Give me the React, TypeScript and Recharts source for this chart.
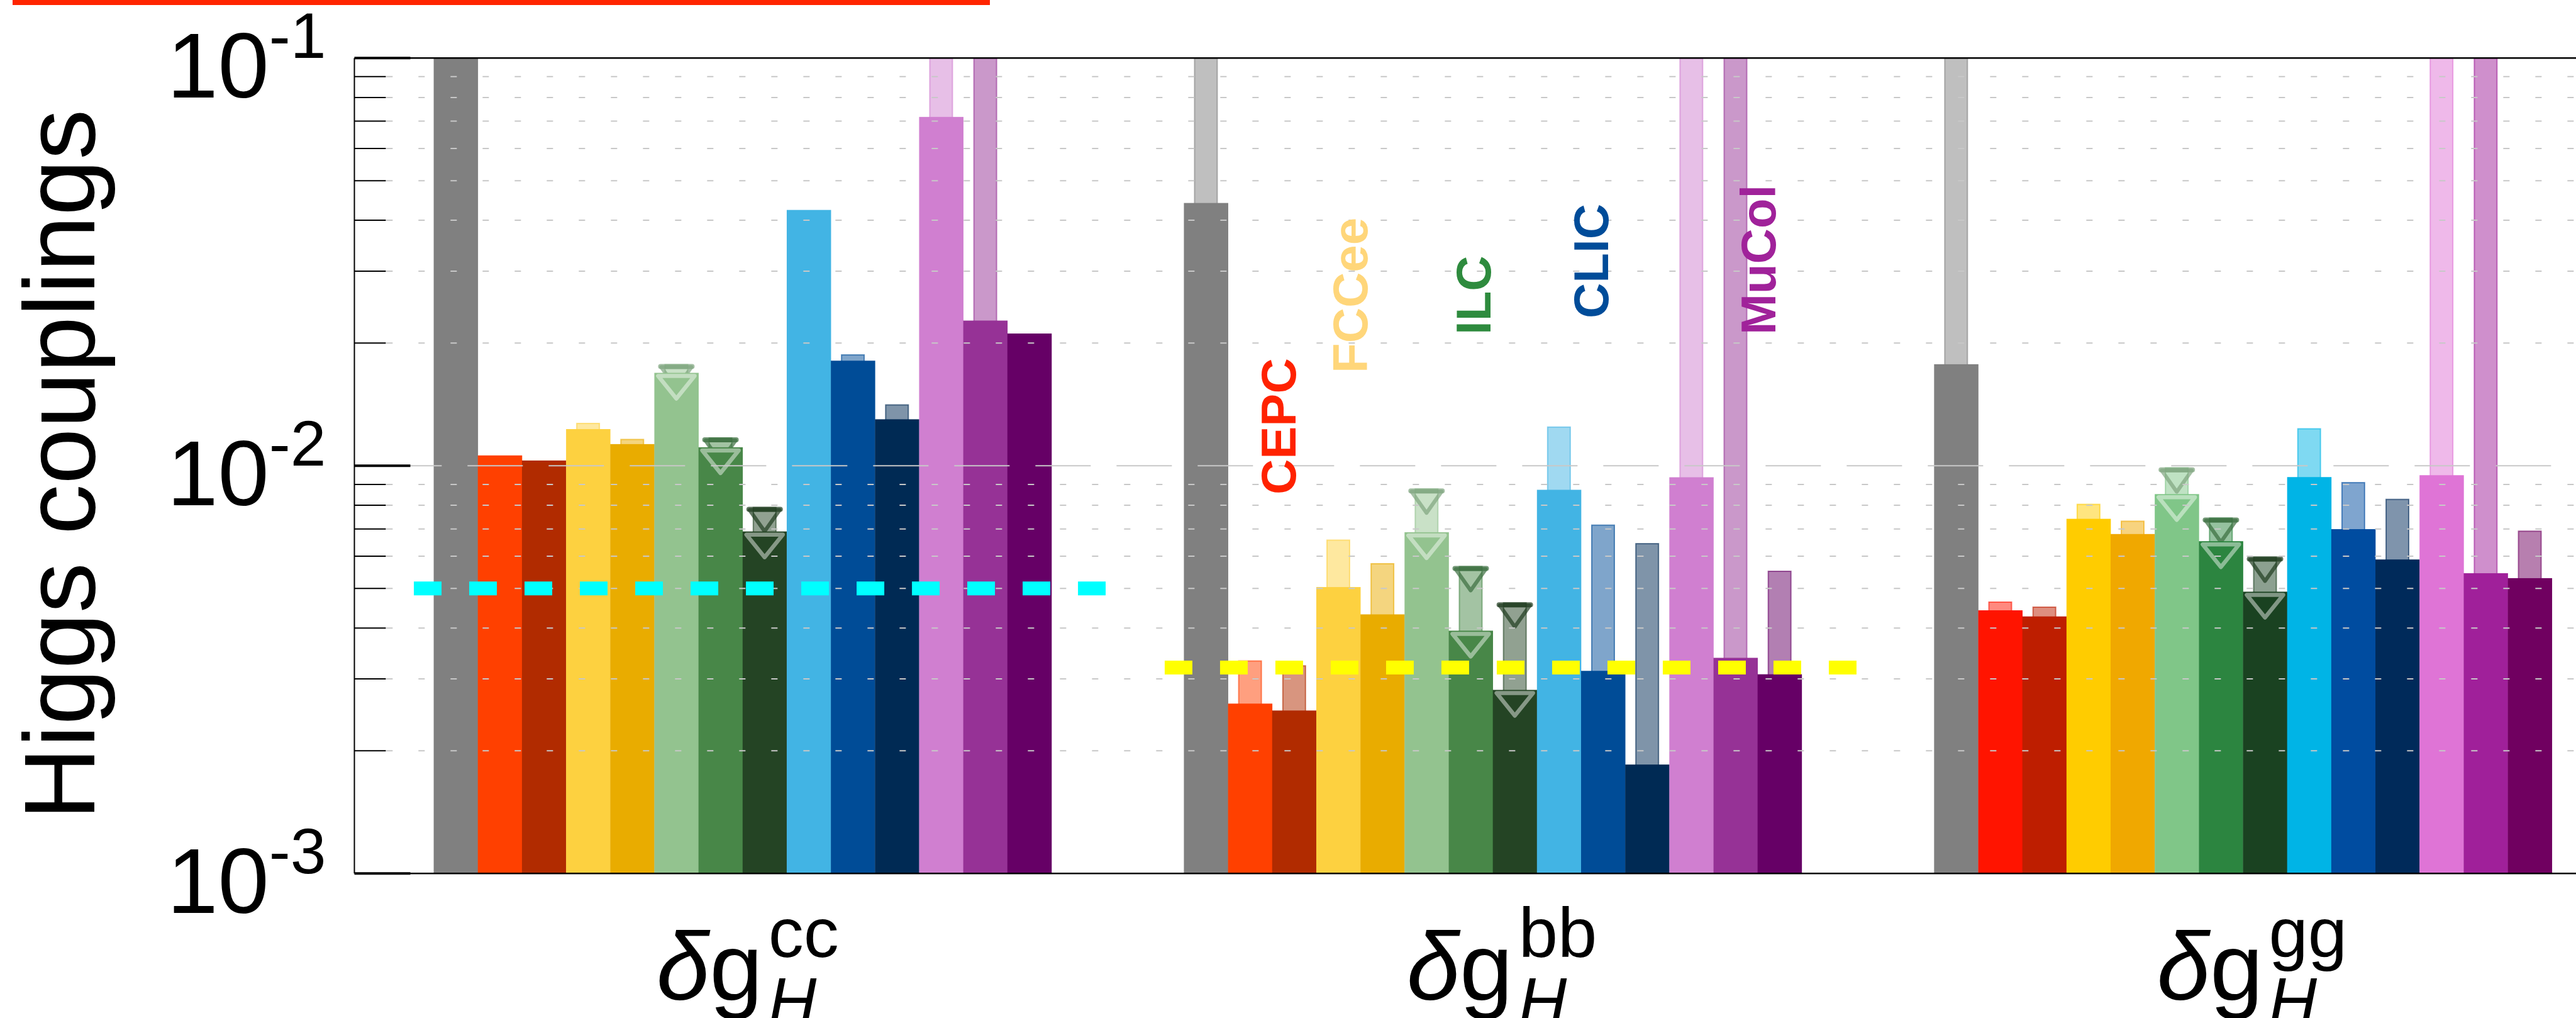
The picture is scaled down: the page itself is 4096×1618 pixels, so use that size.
import React from "react";
import { Bar, ComposedChart, ReferenceLine, XAxis, YAxis } from "recharts";

const W = 4096;
const H = 1618;
const FONT = "'Liberation Sans', Arial, sans-serif";

// --- data ---
const couplings = ["cc", "bb", "gg"];
const colliders = [
  "HL-LHC", "CEPC 240", "CEPC 360", "FCCee 240", "FCCee 365", "ILC 250", "ILC 500",
  "ILC 1000", "CLIC 380", "CLIC 1500", "CLIC 3000", "MuCol 3", "MuCol 10", "MuCol 10+",
];
const ccMain = [0.1, 0.0106, 0.0103, 0.0123, 0.0113, 0.0169, 0.0111, 0.0069, 0.0424, 0.0181, 0.013, 0.0717, 0.0227, 0.0211];
const ccExt = [null, null, null, 0.0127, 0.0116, 0.0177, 0.0117, 0.0079, null, 0.0187, 0.0141, 0.1, 0.1, null];
const bbMain = [0.0441, 0.00261, 0.00251, 0.00504, 0.00432, 0.00687, 0.00394, 0.00282, 0.00873, 0.00314, 0.00185, 0.00937, 0.00338, 0.00308];
const bbExt = [0.1, 0.00332, 0.00323, 0.00657, 0.00575, 0.00877, 0.00566, 0.00461, 0.01244, 0.00715, 0.00644, 0.1, 0.1, 0.00551];
const ggMain = [0.01774, 0.00442, 0.00427, 0.00741, 0.0068, 0.00852, 0.00653, 0.00491, 0.00938, 0.00699, 0.00589, 0.00948, 0.00545, 0.0053];
const ggExt = [0.1, 0.00463, 0.0045, 0.00804, 0.00731, 0.00988, 0.00744, 0.00597, 0.01232, 0.00909, 0.00827, 0.1, 0.1, 0.00691];
const upperLimitRuns = [5, 6, 7]; // ILC bars carry the down triangles
const targets = [0.005, 0.0032];
const targetSpan = [[-0.44, 15.0], [16.22, 31.68]]; // in slot units
const labelNames = ["CEPC", "FCCee", "ILC", "CLIC", "MuCol"];
const yTicks = [0.001, 0.002, 0.003, 0.004, 0.005, 0.006, 0.007, 0.008, 0.009, 0.01, 0.02, 0.03, 0.04, 0.05, 0.06, 0.07, 0.08, 0.09, 0.1];
const majorTicks = [0.001, 0.01, 0.1];
const GAP = 3;

// --- styles ---
const PAL_A = ["#808080", "#FF4000", "#B12B00", "#FDD140", "#E9AC00", "#93C38F", "#488748", "#244424", "#42B4E4", "#004C97", "#002A54", "#D07FD0", "#963296", "#660066"];
const PAL_GG = ["#808080", "#FF1400", "#BE1E00", "#FFCC00", "#F0A800", "#80C688", "#2C8540", "#1A4221", "#00B4E6", "#004CA0", "#002A5A", "#DF74D6", "#A0209A", "#700060"];
const EXT_TRI: Record<number, string> = { 5: "#7FA57F", 6: "#3B6E3E", 7: "#203C20" };
const labelColors = ["#FF2200", "#FFD67A", "#2E8B3E", "#004C99", "#A0229A"];
const labelPos = [[2060, 786], [2174, 593], [2370, 532], [2557, 506], [2823, 532]];

const mains = [ccMain, bbMain, ggMain];
const exts = [ccExt, bbExt, ggExt];

const rows: any[] = [];
couplings.forEach((c, gi) => {
  colliders.forEach((name, i) =>
    rows.push({ slot: `${c}-${i}`, name, group: c, pos: i, main: mains[gi][i], ext: exts[gi][i] })
  );
  if (gi < couplings.length - 1)
    for (let k = 0; k < GAP; k++) rows.push({ slot: `gap${gi}-${k}`, group: "", pos: -1, main: null, ext: null });
});
const NSLOT = rows.length;

const PLOT_LEFT = 563.5;
const PAD = { left: 689.6 - PLOT_LEFT, right: W - 4057.7 };
const HALF_SLOT = (4057.7 - 689.6) / NSLOT / 2;

function ok(...v: number[]) {
  return v.every((n) => Number.isFinite(n));
}

function MainShape(props: any) {
  const { x, y, width, height, payload } = props;
  if (!ok(x, y, width, height) || height <= 0) return <g />;
  const color = (payload.group === "gg" ? PAL_GG : PAL_A)[payload.pos];
  const cx = x + width / 2;
  return (
    <g>
      <rect x={x} y={y} width={width + 0.5} height={height} fill={color} />
      {upperLimitRuns.includes(payload.pos) && (
        <polygon
          points={`${cx - 29},${y + 5} ${cx + 29},${y + 5} ${cx},${y + 41}`}
          fill="none"
          stroke="rgba(255,255,255,0.45)"
          strokeWidth={6.5}
          strokeLinejoin="round"
        />
      )}
    </g>
  );
}

function ExtShape(props: any) {
  const { x, y, width, height, payload } = props;
  if (!ok(x, y, width, height) || height <= 0) return <g />;
  const color = (payload.group === "gg" ? PAL_GG : PAL_A)[payload.pos];
  const cx = x + width / 2;
  return (
    <g>
      <rect x={x} y={y} width={width} height={height} fill={color} fillOpacity={0.5} stroke={color} strokeOpacity={0.6} strokeWidth={2} />
      {upperLimitRuns.includes(payload.pos) && (
        <g stroke={EXT_TRI[payload.pos]} strokeOpacity={0.7} fill="none" strokeLinejoin="round" strokeLinecap="round">
          <line x1={cx - 25} y1={y + 3} x2={cx + 25} y2={y + 3} strokeWidth={8} />
          <polygon points={`${cx - 24},${y + 4} ${cx + 24},${y + 4} ${cx},${y + 38}`} strokeWidth={6} />
        </g>
      )}
    </g>
  );
}

function YTick(props: any) {
  const { x, y, payload } = props;
  const v = payload.value as number;
  const major = majorTicks.some((m) => Math.abs(m - v) < 1e-9);
  if (!major) return <line x1={x} y1={y} x2={x + 50} y2={y} stroke="#000" strokeWidth={2} />;
  const exp = Math.round(Math.log10(v));
  return (
    <g>
      <line x1={x} y1={y} x2={x + 89} y2={y} stroke="#000" strokeWidth={4} />
      <text x={x - 45} y={y + 63} textAnchor="end" fontSize={146} fontFamily={FONT} fill="#000">
        <tspan>10</tspan>
        <tspan fontSize={102} dy={-63}>{exp}</tspan>
      </text>
    </g>
  );
}

function GroupTick(props: any) {
  const { x, y, payload } = props;
  const g = String(payload.value).split("-")[0];
  const cx = x + HALF_SLOT;
  return (
    <text x={cx - 137} y={y + 171} fontSize={152} fontFamily={FONT} fill="#000">
      <tspan fontStyle="italic">δ</tspan>
      <tspan>g</tspan>
      <tspan x={cx + 41} dy={-68} fontSize={112}>{g}</tspan>
      <tspan x={cx + 41} dy={107} fontSize={106} fontStyle="italic">H</tspan>
    </text>
  );
}

export default function App() {
  return (
    <div style={{ position: "absolute", left: 0, top: 0, width: W, height: H, background: "#fff" }}>
      <ComposedChart
        width={W}
        height={H}
        data={rows}
        margin={{ top: 92.2, right: 0, bottom: 0, left: 0 }}
        barCategoryGap={0}
        barGap={0}
      >
        <XAxis
          xAxisId="main"
          dataKey="slot"
          type="category"
          padding={PAD}
          height={229.7}
          ticks={couplings.map((c) => `${c}-6`)}
          interval={0}
          tick={<GroupTick />}
          axisLine={false}
          tickLine={false}
          tickSize={0}
          tickMargin={0}
        />
        <XAxis xAxisId="ext" dataKey="slot" type="category" padding={PAD} hide />
        <XAxis xAxisId="num" type="number" domain={[0, NSLOT]} allowDataOverflow padding={PAD} hide />
        <YAxis
          type="number"
          scale="log"
          domain={[0.001, 0.1]}
          allowDataOverflow
          ticks={yTicks}
          interval={0}
          width={PLOT_LEFT}
          tick={<YTick />}
          tickSize={0}
          tickMargin={0}
          tickLine={false}
          axisLine={{ stroke: "#000", strokeWidth: 2 }}
        />
        {yTicks.slice(1, -1).map((v) => (
          <ReferenceLine
            key={`g${v}`}
            xAxisId="num"
            segment={[{ x: -1.05, y: v }, { x: NSLOT + 0.5, y: v }]}
            stroke="#C8C8C8"
            strokeWidth={2}
            strokeDasharray={majorTicks.includes(v) ? "88 41" : "10 41"}
            ifOverflow="visible"
          />
        ))}
        <Bar xAxisId="ext" dataKey="ext" barSize={36} shape={ExtShape} isAnimationActive={false} />
        <Bar xAxisId="main" dataKey="main" shape={MainShape} isAnimationActive={false} />
        {[0.1, 0.001].map((v) => (
          <ReferenceLine
            key={`b${v}`}
            xAxisId="num"
            segment={[{ x: -0.78, y: v }, { x: NSLOT + 0.5, y: v }]}
            stroke="#000"
            strokeWidth={2.5}
            ifOverflow="visible"
          />
        ))}
        {targets.map((t, i) => (
          <ReferenceLine
            key={`t${i}`}
            xAxisId="num"
            segment={[{ x: targetSpan[i][0], y: t }, { x: targetSpan[i][1], y: t }]}
            stroke={i === 0 ? "#00FFFF" : "#FFFF00"}
            strokeWidth={22}
            strokeDasharray="44 44"
            ifOverflow="visible"
          />
        ))}
      </ComposedChart>
      <svg width={W} height={H} style={{ position: "absolute", left: 0, top: 0, pointerEvents: "none" }}>
        <rect x={20} y={0} width={1554} height={8} fill="#FF2500" />
        <text
          x={150}
          y={738.6}
          transform="rotate(-90 150 738.6)"
          textAnchor="middle"
          fontSize={160}
          fontFamily={FONT}
          fill="#000"
        >
          Higgs couplings
        </text>
        {labelNames.map((n, i) => (
          <text
            key={n}
            x={labelPos[i][0]}
            y={labelPos[i][1]}
            transform={`rotate(-90 ${labelPos[i][0]} ${labelPos[i][1]})`}
            fontSize={78}
            fontWeight="bold"
            fontFamily={FONT}
            fill={labelColors[i]}
          >
            {n}
          </text>
        ))}
      </svg>
    </div>
  );
}
